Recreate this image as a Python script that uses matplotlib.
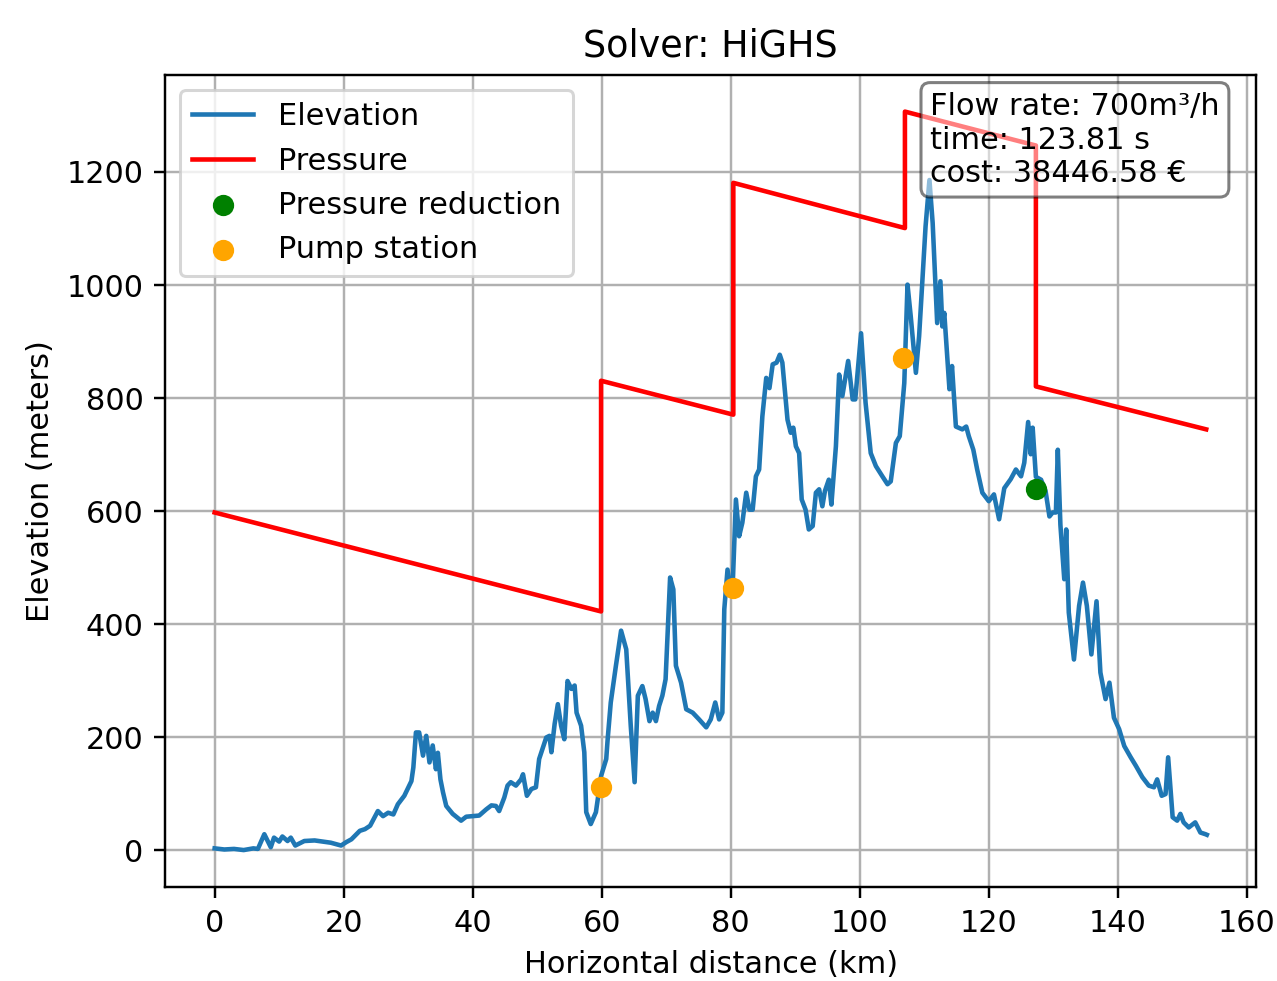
import matplotlib
matplotlib.use("Agg")
import matplotlib.pyplot as plt

# elevation profile (km, m)
dist_km = [0, 1.5, 3, 4.5, 6, 6.7, 7.7, 8.7, 9.2, 10.0, 10.5, 11.3, 11.8, 12.5, 13.9, 15.5, 18, 19.6,
           20.4, 21.2, 22.5, 23.3, 24.1, 25.3, 26.1, 26.9, 27.7, 28.4, 29.4, 30.5, 30.8, 31.2, 31.7,
           32.3, 32.8, 33.3, 33.8, 34.3, 34.6, 35.0, 35.4, 35.9, 36.9, 38.2, 39.0, 41.0, 42.1, 42.9,
           43.6, 44.1, 44.9, 45.4, 45.9, 46.7, 47.5, 47.8, 48.4, 49.1, 49.8, 50.3, 51.4, 51.9, 52.2,
           52.7, 53.2, 53.7, 54.2, 54.7, 55.3, 55.8, 56.1, 56.8, 57.3, 57.6, 58.3, 59.1, 59.9, 60.7,
           60.9, 61.4, 62.2, 63.0, 63.8, 64.5, 65.1, 65.6, 66.3, 66.8, 67.4, 67.9, 68.4, 68.9, 69.4,
           69.9, 70.6, 71.1, 71.5, 72.3, 73.1, 74.1, 75.1, 76.2, 76.9, 77.6, 78.2, 78.7, 79.0, 79.5,
           80.0, 80.3, 80.8, 81.3, 81.8, 82.4, 82.9, 83.4, 83.9, 84.4, 84.9, 85.5, 86.0, 86.5, 87.1,
           87.6, 88.0, 88.8, 89.3, 89.7, 90.1, 90.6, 91.0, 91.6, 92.1, 92.7, 93.2, 93.7, 94.2, 94.6,
           95.2, 95.6, 96.3, 96.8, 97.3, 98.2, 98.9, 99.3, 100.2, 100.9, 101.7, 102.5, 103.5, 104.3,
           104.8, 105.6, 106.2, 106.9, 107.4, 107.9, 108.7, 109.2, 110.2, 110.8, 111.3, 112.0, 112.5,
           112.8, 113.1, 113.9, 114.3, 114.9, 115.9, 116.5, 116.9, 117.6, 118.2, 119.0, 120.0, 120.8,
           121.6, 122.4, 123.4, 124.2, 125.0, 125.5, 126.1, 126.5, 126.8, 127.3, 128.1, 128.8, 129.4,
           129.9, 130.4, 130.7, 131.1, 131.7, 132.0, 132.4, 133.2, 134.0, 134.6, 135.2, 135.9, 136.7,
           137.3, 138.1, 138.7, 139.4, 140.2, 141.0, 142.0, 142.8, 143.8, 144.8, 145.6, 146.1, 146.8,
           147.4, 147.8, 148.2, 148.5, 149.2, 149.7, 150.2, 151.0, 152.0, 152.8, 153.6, 153.8]
elevation = [3, 1, 2, 0, 3, 2, 28, 5, 22, 15, 24, 16, 22, 8, 16, 17, 13, 8,
             14, 19, 34, 37, 43, 69, 60, 66, 63, 81, 96, 122, 146, 208, 208,
             167, 202, 155, 185, 143, 172, 125, 102, 78, 64, 52, 59, 61, 72, 79,
             78, 69, 93, 114, 120, 114, 125, 134, 96, 108, 111, 161, 199, 202, 173,
             223, 258, 220, 196, 299, 285, 291, 243, 220, 173, 67, 46, 67, 131, 161,
             193, 261, 326, 388, 355, 220, 120, 273, 290, 267, 228, 243, 228, 255, 273,
             302, 482, 461, 326, 296, 249, 243, 231, 217, 231, 261, 231, 243, 426, 496,
             452, 467, 620, 555, 579, 632, 602, 602, 661, 673, 767, 835, 817, 859, 862,
             876, 862, 761, 738, 747, 714, 702, 620, 602, 567, 573, 632, 638, 608, 635,
             655, 611, 714, 841, 803, 865, 797, 797, 914, 791, 702, 679, 661, 647,
             652, 720, 732, 826, 1000, 944, 844, 909, 1103, 1185, 1109, 932, 1006,
             926, 950, 815, 856, 749, 744, 749, 732, 708, 673, 632, 617, 629,
             585, 640, 656, 673, 661, 685, 757, 700, 747, 660, 655, 635, 590,
             597, 597, 708, 575, 479, 567, 420, 337, 432, 473, 432, 346, 440,
             314, 267, 296, 234, 214, 184, 164, 149, 129, 114, 111, 125, 96,
             99, 164, 102, 58, 52, 64, 49, 40, 49, 31, 28, 27]

# pressure head line
pressure_x = [0, 59.9, 59.9, 80.4, 80.4, 107.0, 107.0, 127.3, 127.3, 153.7]
pressure_y = [597, 422, 830, 770, 1180, 1100, 1306, 1246, 820, 744]

# stations
pump_x = [59.9, 80.4, 106.7]
pump_y = [112, 464, 870]
reduction_x = [127.3]
reduction_y = [639]

DPI = 219
fig, ax = plt.subplots(figsize=(1277.4 / DPI, 981.4 / DPI), dpi=DPI)
fig.subplots_adjust(left=0.1292, right=0.9836, bottom=0.0958, top=0.9235)

ax.plot(dist_km, elevation, label="Elevation")
ax.plot(pressure_x, pressure_y, color="red", label="Pressure")
ax.scatter(reduction_x, reduction_y, color="green", label="Pressure reduction", zorder=3)
ax.scatter(pump_x, pump_y, color="orange", label="Pump station", zorder=3)

ax.text(0.701, 0.979, "Flow rate: 700m³/h\ntime: 123.81 s\ncost: 38446.58 €",
        transform=ax.transAxes, va="top", ha="left",
        bbox=dict(boxstyle="round", facecolor="white", alpha=0.5))

ax.set_title("Solver: HiGHS")
ax.set_xlabel("Horizontal distance (km)")
ax.set_ylabel("Elevation (meters)")
ax.legend(loc="upper left")
ax.grid(True)

fig.savefig("out.png", dpi=DPI)
